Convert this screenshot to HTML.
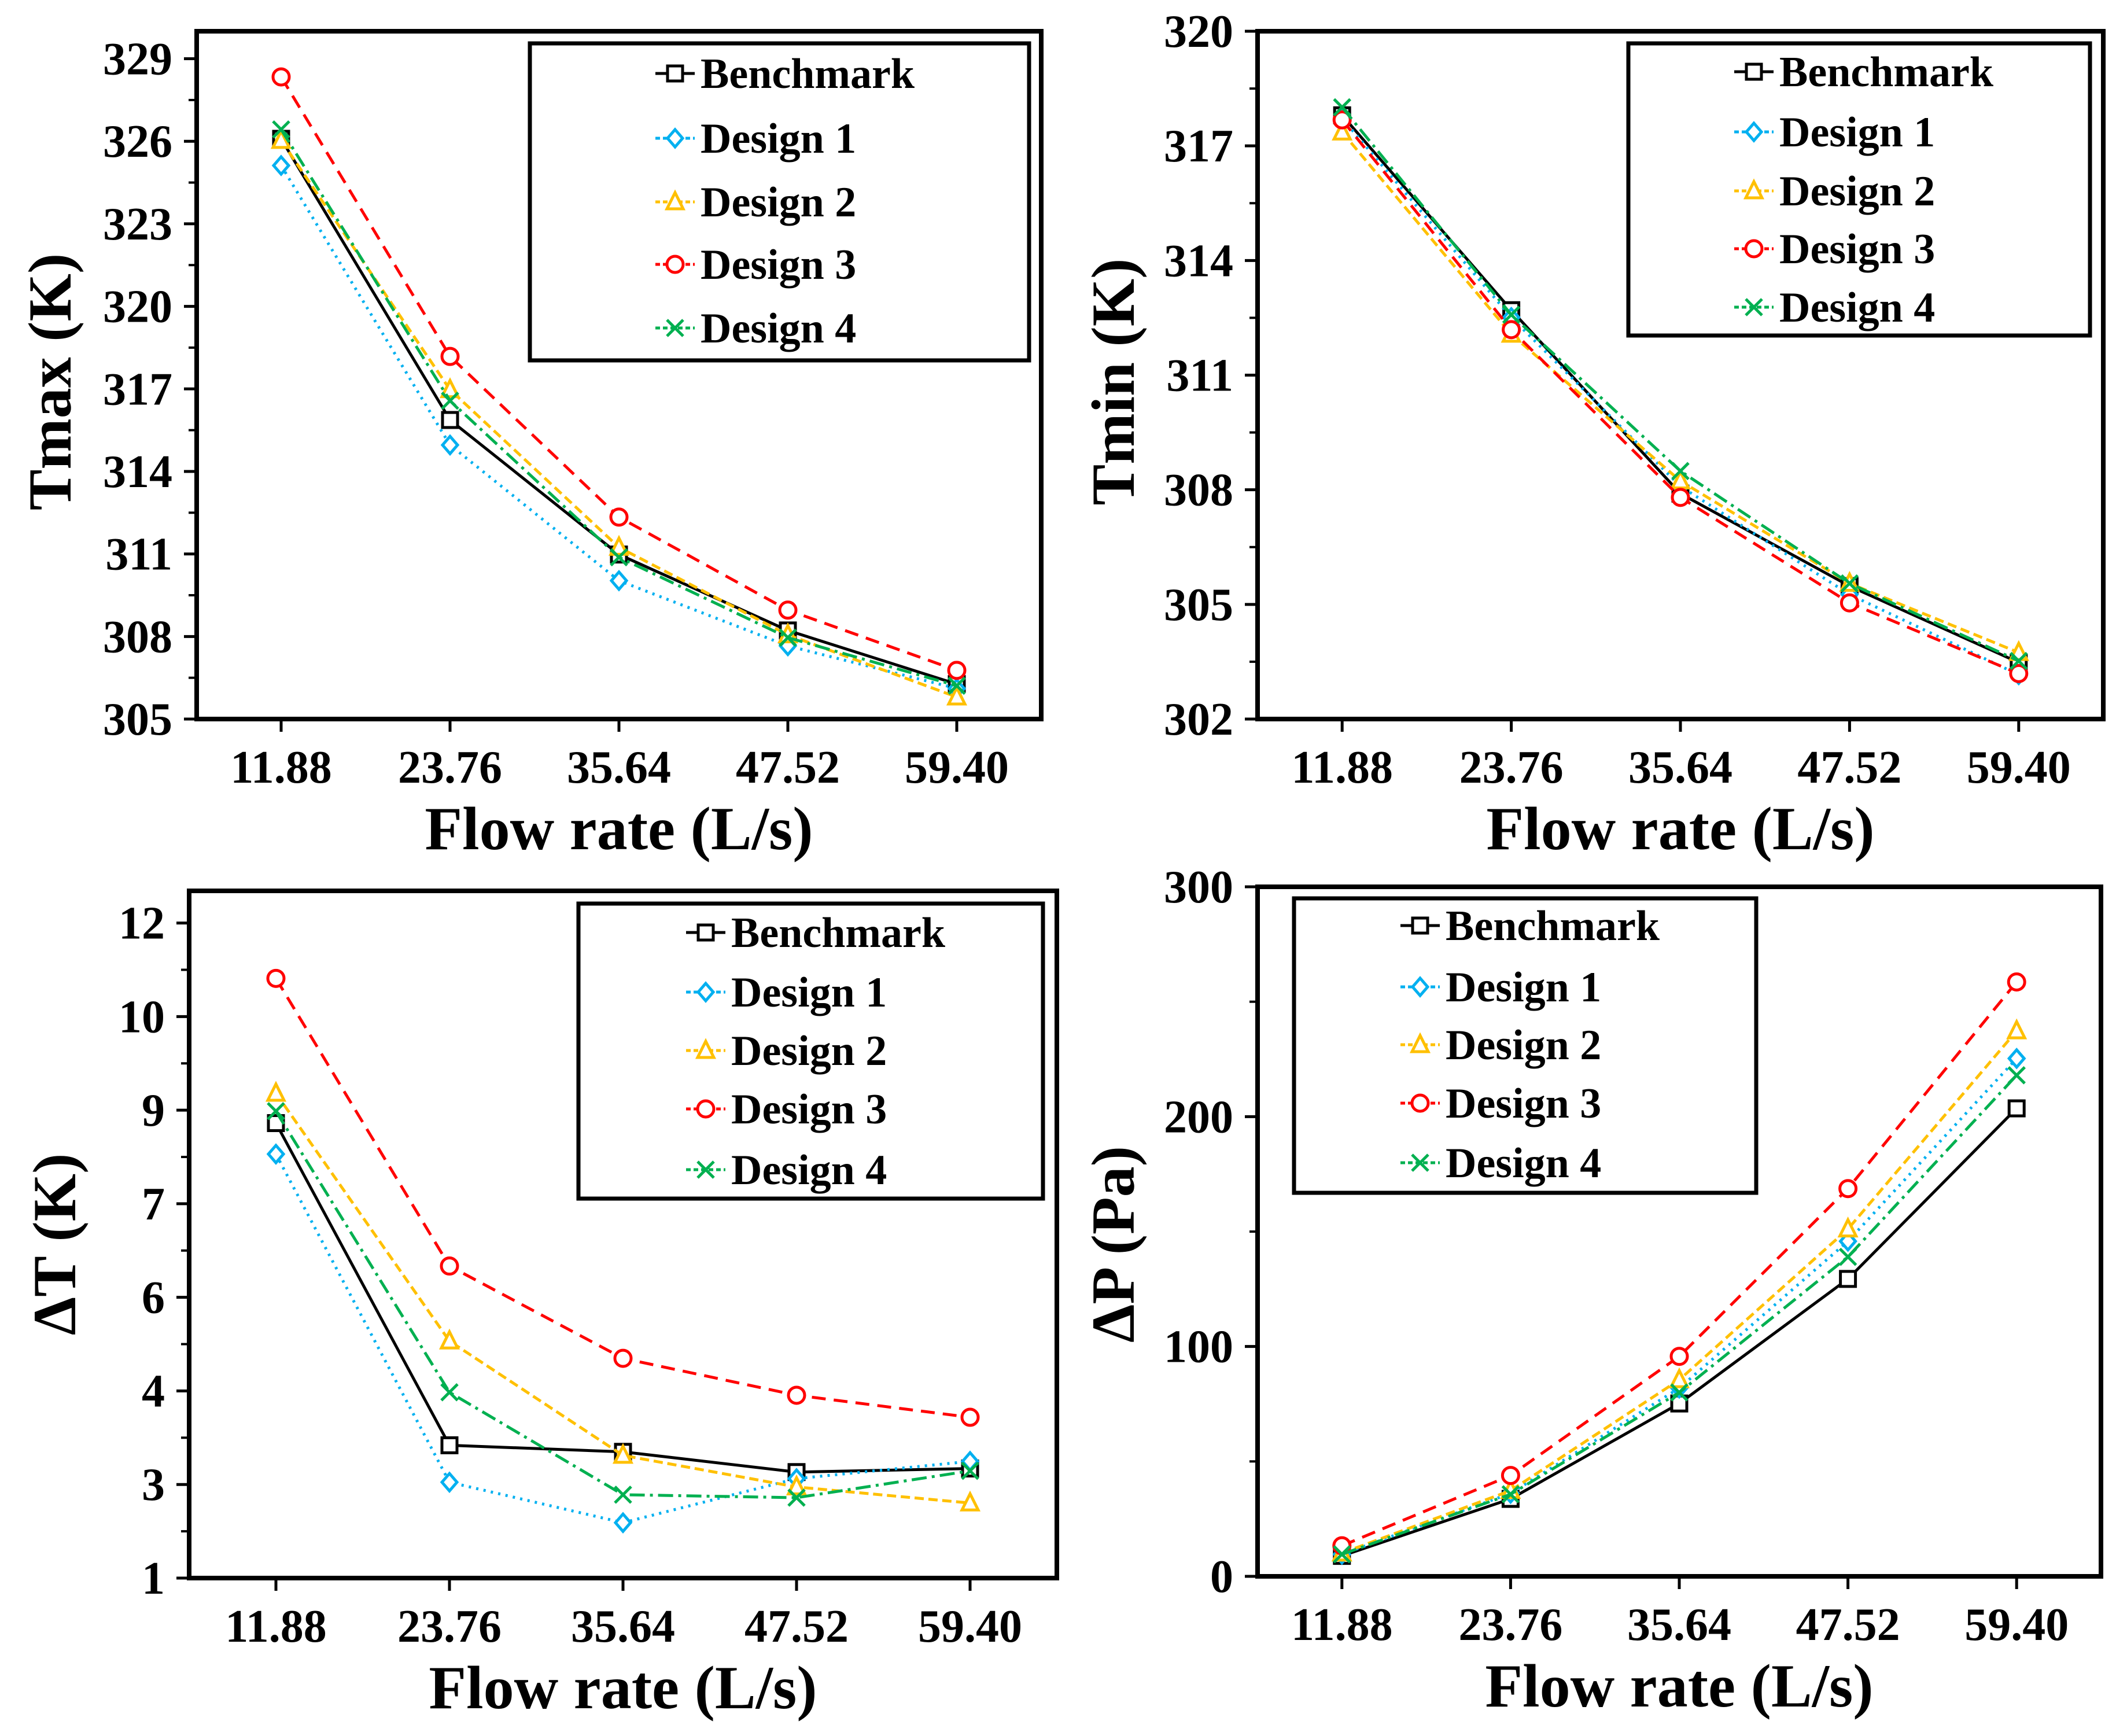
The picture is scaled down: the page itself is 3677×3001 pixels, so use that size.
<!DOCTYPE html>
<html><head><meta charset="utf-8">
<style>
html,body{margin:0;padding:0;background:#fff;}
svg{display:block;}
text{font-family:"Liberation Serif",serif;font-weight:bold;fill:#000;}
</style></head>
<body>
<svg id="fig" width="3677" height="3001" viewBox="0 0 3677 3001" xmlns="http://www.w3.org/2000/svg"></svg>
<script>
const categories = ["11.88","23.76","35.64","47.52","59.40"];
const seriesNames = ["Benchmark","Design 1","Design 2","Design 3","Design 4"];

const tmaxBenchmark = [326.09,315.87,310.98,308.22,306.27];
const tmaxDesign1 = [325.12,314.96,310.03,307.66,306.11];
const tmaxDesign2 = [326.03,316.97,311.24,308.06,305.80];
const tmaxDesign3 = [328.34,318.18,312.34,308.96,306.77];
const tmaxDesign4 = [326.43,316.57,310.88,307.96,306.21];
const tmaxTicks = ["305","308","311","314","317","320","323","326","329"];

const tminBenchmark = [317.80,312.70,307.90,305.48,303.48];
const tminDesign1 = [317.72,312.51,308.09,305.26,303.16];
const tminDesign2 = [317.36,312.07,308.23,305.55,303.74];
const tminDesign3 = [317.68,312.19,307.80,305.04,303.19];
const tminDesign4 = [318.01,312.58,308.49,305.55,303.52];
const tminTicks = ["302","305","308","311","314","317","320"];

const dtBenchmark = [8.64,3.23,3.12,2.78,2.84];
const dtDesign1 = [8.12,2.61,1.93,2.67,2.96];
const dtDesign2 = [9.14,4.98,3.06,2.53,2.26];
const dtDesign3 = [11.07,6.24,4.69,4.07,3.70];
const dtDesign4 = [8.84,4.12,2.40,2.35,2.80];
const dtTicks = ["1","3","4","6","7","9","10","12"];

const dpBenchmark = [8.9,33.7,75.2,129.4,203.6];
const dpDesign1 = [9.6,36.1,81.9,145.8,225.3];
const dpDesign2 = [10.1,37.3,85.5,151.1,237.3];
const dpDesign3 = [13.3,43.9,95.7,168.7,258.6];
const dpDesign4 = [9.6,35.7,80.0,139.0,218.0];
const dpTicks = ["0","100","200","300"];

const NS="http://www.w3.org/2000/svg";
const svg=document.getElementById('fig');
const styles=[
 {c:"#000000",dash:"",m:"square"},
 {c:"#00B0F0",dash:"4 9",m:"diamond"},
 {c:"#FFC000",dash:"16 8",m:"triangle"},
 {c:"#FF0000",dash:"24 14",m:"circle"},
 {c:"#00B050",dash:"26 9 5 9",m:"x"}
];
function mk(tag,attrs,parent){const e=document.createElementNS(NS,tag);for(const k in attrs)e.setAttribute(k,attrs[k]);(parent||svg).appendChild(e);return e;}
function marker(g,m,x,y,c){
  let e;
  if(m==="square"){e=mk('rect',{x:x-13,y:y-13,width:26,height:26,fill:'#fff',stroke:c,'stroke-width':5},g);}
  else if(m==="diamond"){e=mk('polygon',{points:`${x},${y-15} ${x+13},${y} ${x},${y+15} ${x-13},${y}`,fill:'#fff',stroke:c,'stroke-width':5},g);}
  else if(m==="triangle"){e=mk('polygon',{points:`${x},${y-16} ${x+14},${y+12} ${x-14},${y+12}`,fill:'#fff',stroke:c,'stroke-width':5},g);}
  else if(m==="circle"){e=mk('circle',{cx:x,cy:y,r:14,fill:'#fff',stroke:c,'stroke-width':5},g);}
  else {e=mk('path',{d:`M${x-14},${y-14}L${x+14},${y+14}M${x+14},${y-14}L${x-14},${y+14}`,stroke:c,'stroke-width':5,fill:'none'},g);}
  
  
}
function panel(p){
  const g=mk('g',{});
  
  
  const xs=i=>p.L+(i+0.5)*(p.R-p.L)/categories.length;
  const ys=v=>p.B-(v-p.min)/(p.max-p.min)*(p.B-p.T);
  p.tickVals.forEach((v,i)=>{
    const y=ys(v);
    const t=mk('line',{x1:p.L-22,x2:p.L,y1:y,y2:y,stroke:'#000','stroke-width':5},g);
    
    
    const tx=mk('text',{x:p.L-42,y:y+27,'font-size':80,'text-anchor':'end'},g);
    tx.textContent=p.ticks[i];
    
    
    const ym=ys(v+p.step/2);
    if(ym>p.T+5){
      const mt=mk('line',{x1:p.L-14,x2:p.L,y1:ym,y2:ym,stroke:'#000','stroke-width':4},g);
      
      
    }
  });
  categories.forEach((c,i)=>{
    const x=xs(i);
    const t=mk('line',{x1:x,x2:x,y1:p.B,y2:p.B+22,stroke:'#000','stroke-width':5},g);
    
    
    const tx=mk('text',{x:x,y:p.B+110,'font-size':80,'text-anchor':'middle'},g);
    tx.textContent=c;
    
    
  });
  p.series.forEach((arr,si)=>{
    const st=styles[si];
    const sg=mk('g',{},g);
    
    
    const pts=arr.map((v,i)=>xs(i)+','+ys(v)).join(' ');
    const pl=mk('polyline',{points:pts,fill:'none',stroke:st.c,'stroke-width':5,'stroke-dasharray':st.dash},sg);
    
    
    arr.forEach((v,i)=>marker(sg,st.m,xs(i),ys(v),st.c));
  });
  const fr=mk('rect',{x:p.L,y:p.T,width:p.R-p.L,height:p.B-p.T,fill:'none',stroke:'#000','stroke-width':8},g);
  
  
  const lg=mk('g',{},g);
  
  
  const lb=mk('rect',{x:p.lg.x,y:p.lg.y,width:p.lg.w,height:p.lg.h,fill:'#fff',stroke:'#000','stroke-width':7},lg);
  
  
  seriesNames.forEach((n,si)=>{
    const st=styles[si];const y=p.lg.ey[si];
    const eg=mk('g',{},lg);
    
    
    mk('line',{x1:p.lg.sx,x2:p.lg.sx+68,y1:y,y2:y,stroke:st.c,'stroke-width':5,'stroke-dasharray':st.dash?'8 5':''},eg);
    marker(eg,st.m,p.lg.sx+34,y,st.c);
    const tx=mk('text',{x:p.lg.sx+78,y:y+25,'font-size':74},eg);
    tx.textContent=n;
  });
  const xt=mk('text',{x:(p.L+p.R)/2,y:p.B+225,'font-size':106,'text-anchor':'middle'},g);
  xt.textContent="Flow rate (L/s)";
  
  
  const yt=mk('text',{x:0,y:0,'font-size':106,'text-anchor':'middle',transform:`translate(${p.ytx},${p.yty}) rotate(-90)`},g);
  yt.textContent=p.ytitle;
  
  
}
panel({name:'tmax-panel',L:340,R:1800,T:54,B:1243,min:305,max:330,step:3,
  tickVals:[305,308,311,314,317,320,323,326,329],ticks:tmaxTicks,
  series:[tmaxBenchmark,tmaxDesign1,tmaxDesign2,tmaxDesign3,tmaxDesign4],
  lg:{x:916,y:75,w:863,h:548,sx:1133,ey:[127,239,349,457,567]},ytitle:"Tmax (K)",ytx:122,yty:660});
panel({name:'tmin-panel',L:2174,R:3636,T:54,B:1243,min:302,max:320,step:3,
  tickVals:[302,305,308,311,314,317,320],ticks:tminTicks,
  series:[tminBenchmark,tminDesign1,tminDesign2,tminDesign3,tminDesign4],
  lg:{x:2815,y:75,w:798,h:505,sx:2998,ey:[124,228,330,430,531]},ytitle:"Tmin (K)",ytx:1960,yty:660});
const dtStep=11/7;
panel({name:'delta-t-panel',L:327,R:1827,T:1540,B:2728,min:1,max:12.54,step:dtStep,
  tickVals:dtTicks.map((t,i)=>1+i*dtStep),ticks:dtTicks,
  series:[dtBenchmark,dtDesign1,dtDesign2,dtDesign3,dtDesign4],
  lg:{x:1000,y:1562,w:803,h:510,sx:1186,ey:[1612,1715,1816,1917,2022]},ytitle:"ΔT (K)",ytx:130,yty:2151});
panel({name:'delta-p-panel',L:2174,R:3632,T:1533,B:2725,min:0,max:300,step:100,
  tickVals:[0,100,200,300],ticks:dpTicks,
  series:[dpBenchmark,dpDesign1,dpDesign2,dpDesign3,dpDesign4],
  lg:{x:2237,y:1553,w:799,h:509,sx:2421,ey:[1600,1706,1806,1907,2010]},ytitle:"ΔP (Pa)",ytx:1960,yty:2151});
</script>
</body></html>
